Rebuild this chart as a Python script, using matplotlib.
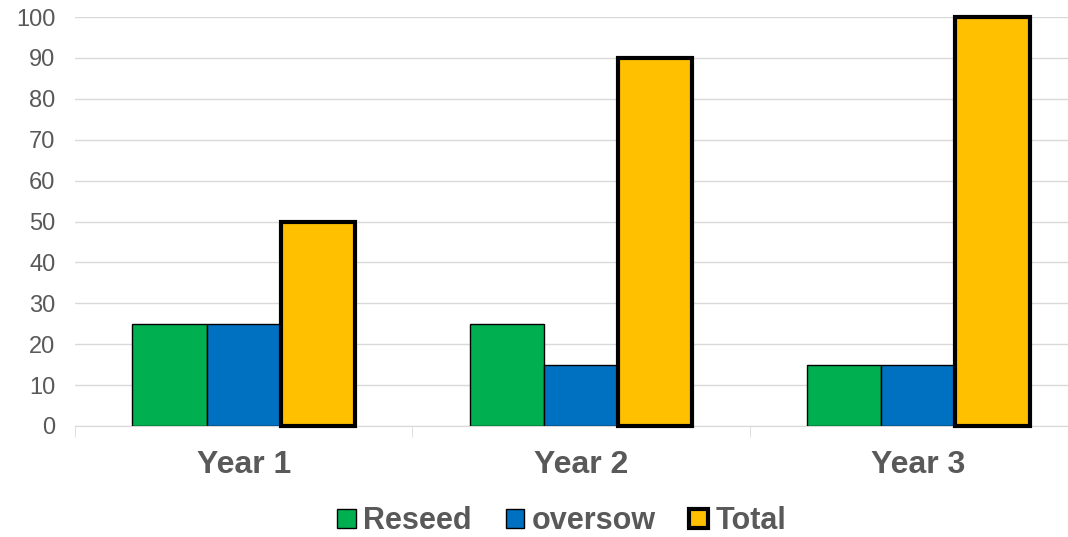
import numpy as np
import matplotlib.pyplot as plt
from matplotlib.patches import Patch

categories = ['Year 1', 'Year 2', 'Year 3']
reseed = [25, 25, 15]
oversow = [25, 15, 15]
total = [50, 90, 100]

plt.rcParams['font.family'] = ['Liberation Sans', 'DejaVu Sans']
grey = '#595959'

fig = plt.figure(figsize=(10.68, 5.37), dpi=100)
ax = fig.add_axes([75/1068, 111/537, 1012/1068, 409/537])

x = np.arange(len(categories))
w = 0.22
ax.bar(x - w, reseed, w, color='#00B050', edgecolor='black', linewidth=1, zorder=3)
ax.bar(x, oversow, w, color='#0070C0', edgecolor='black', linewidth=1, zorder=3)
ax.bar(x + w, total, w, color='#FFC000', edgecolor='black', linewidth=3, zorder=3, clip_on=False)

ax.set_xlim(-0.5, 2.5)
ax.set_ylim(0, 100)
ax.set_yticks(range(0, 101, 10))
ax.grid(axis='y', color='#D9D9D9', linewidth=1, zorder=0)
ax.set_xticks(x)
ax.set_xticklabels(categories, fontsize=23, fontweight='bold', color=grey)
ax.set_xticks([-0.5, 0.5, 1.5, 2.5], minor=True)
ax.tick_params(axis='x', which='major', length=0, pad=17)
ax.tick_params(axis='x', which='minor', length=8, color='#D9D9D9')
ax.tick_params(axis='y', length=0, pad=14, labelsize=17, labelcolor=grey)
for s in ['top', 'right', 'left']:
    ax.spines[s].set_visible(False)
ax.spines['bottom'].set_color('#D9D9D9')

handles = [Patch(facecolor='#00B050', edgecolor='black', linewidth=1),
           Patch(facecolor='#0070C0', edgecolor='black', linewidth=1),
           Patch(facecolor='#FFC000', edgecolor='black', linewidth=3)]
leg = fig.legend(handles, ['Reseed', 'oversow', 'Total'], loc='lower center',
                 bbox_to_anchor=(0.526, -0.05), ncol=3, frameon=False,
                 handlelength=0.6, handleheight=0.6, handletextpad=0.25,
                 columnspacing=1.1, prop={'size': 22, 'weight': 'bold'})
for t in leg.get_texts():
    t.set_color(grey)

fig.savefig('out.png', dpi=100)
